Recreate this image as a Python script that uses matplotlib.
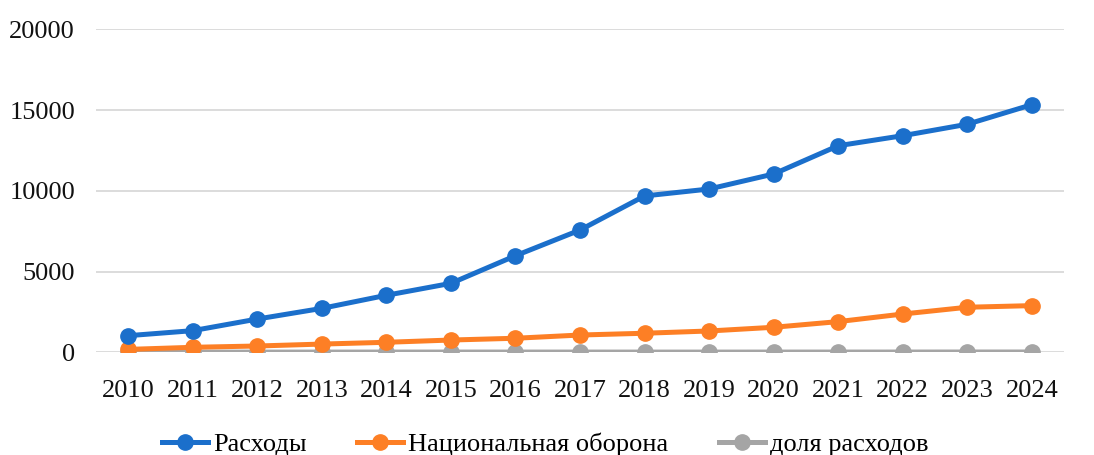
import matplotlib
matplotlib.use("Agg")
import matplotlib.pyplot as plt

years = ["2010", "2011", "2012", "2013", "2014", "2015", "2016", "2017",
         "2018", "2019", "2020", "2021", "2022", "2023", "2024"]
rashody = [1030, 1340, 2060, 2720, 3530, 4270, 5980, 7570,
           9680, 10110, 11040, 12790, 13410, 14120, 15330]
oborona = [180, 310, 390, 510, 620, 760, 870, 1070,
           1180, 1320, 1550, 1900, 2370, 2790, 2890]
dolya = [10, 12, 13, 14, 15, 16, 15, 15,
         14, 14, 15, 16, 17, 19, 19]
labels = ["Расходы", "Национальная оборона", "доля расходов"]

plt.rcParams['font.family'] = ['Liberation Serif', 'DejaVu Serif']

fig = plt.figure(figsize=(10.94, 4.55), dpi=100)
ax = fig.add_axes([0.0877, 0.2257, 0.885, 0.71])

x = range(len(years))
ax.plot(x, dolya, color='#a5a5a5', lw=3.6, marker='o', ms=11, solid_joinstyle='round')
ax.plot(x, oborona, color='#fd7f25', lw=3.6, marker='o', ms=11, solid_joinstyle='round')
ax.plot(x, rashody, color='#1b6fcb', lw=3.6, marker='o', ms=11, solid_joinstyle='round')

ax.set_xlim(-0.5, len(years) - 0.5)
ax.set_ylim(0, 20000)
ax.set_yticks([0, 5000, 10000, 15000, 20000])
ax.set_xticks(list(x))
ax.set_xticklabels(years)
ax.tick_params(length=0, labelsize=19, colors='#111111')
ax.tick_params(axis='x', pad=20)
ax.tick_params(axis='y', pad=15)
ax.grid(axis='y', color='#d9d9d9', lw=1.3)
ax.set_axisbelow(True)
for s in ax.spines.values():
    s.set_visible(False)

h = ax.get_lines()
ax.legend([h[2], h[1], h[0]], labels, loc='upper center', bbox_to_anchor=(0.464, -0.175),
          ncol=3, frameon=False, fontsize=19, handlelength=1.75, handletextpad=0.2,
          columnspacing=1.9)

fig.savefig('out.png', dpi=100)
